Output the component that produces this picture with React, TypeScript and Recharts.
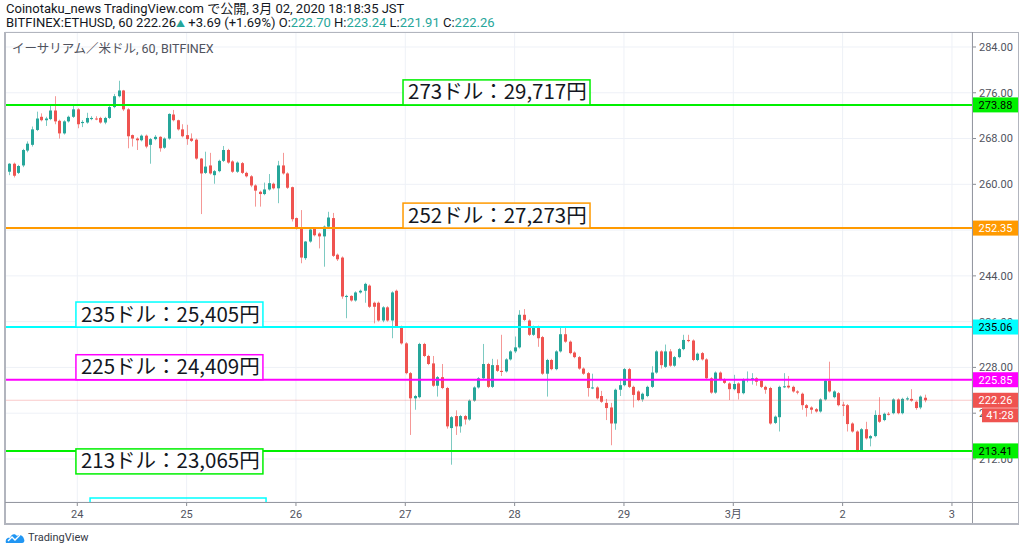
import React from 'react';
import { ComposedChart, Bar, XAxis, YAxis, CartesianGrid, ReferenceLine, ReferenceDot } from 'recharts';

// hourly candles, index 0 = Feb 24 00:00
const START_INDEX = -15;

const opens = [
  262.2, 263.6, 262.0, 263.3, 265.9, 266.9, 269.5, 271.8, 271.2, 271.4, 272.9, 271.1, 268.9, 271.0, 271.8,
  273.1, 270.7, 270.8, 271.4, 271.5, 271.6, 270.8, 271.6, 273.5, 275.4, 276.4, 273.1, 268.6, 268.0, 267.7,
  268.5, 266.9, 267.9, 268.3, 266.4, 268.0, 272.2, 271.2, 269.6, 268.6, 268.0, 267.8, 264.5, 262.0, 263.3,
  261.6, 262.3, 264.1, 266.0, 264.0, 262.2, 263.7, 262.0, 261.4, 259.8, 258.7, 258.3, 259.1, 260.1, 259.3,
  263.3, 261.9, 259.5, 254.1, 252.3, 247.1, 250.0, 252.3, 251.4, 250.9, 252.6, 254.1, 247.7, 247.2, 240.3,
  240.5, 239.7, 241.1, 241.4, 242.3, 239.3, 239.3, 236.2, 238.5, 236.2, 241.4, 235.1, 232.2, 227.0, 222.6,
  222.8, 232.1, 230.0, 228.7, 224.8, 226.3, 224.4, 217.4, 219.5, 217.7, 219.5, 218.9, 222.2, 224.5, 226.1,
  228.6, 224.6, 228.4, 227.4, 227.3, 229.4, 230.8, 231.5, 237.2, 236.2, 233.7, 235.1, 233.3, 226.9, 229.3,
  227.7, 230.8, 233.8, 232.5, 230.6, 229.8, 227.8, 227.0, 224.4, 224.5, 223.0, 221.8, 221.0, 218.2, 224.1,
  224.9, 227.7, 224.6, 223.8, 222.4, 223.0, 224.6, 227.1, 230.8, 228.1, 230.8, 228.3, 229.8, 231.2, 232.8,
  232.7, 229.3, 230.5, 229.4, 226.1, 223.6, 227.1, 225.9, 225.2, 224.2, 225.2, 223.5, 225.9, 225.9, 226.1,
  225.7, 224.6, 224.4, 218.3, 219.3, 224.6, 224.8, 224.6, 223.8, 223.4, 221.4, 221.0, 220.7, 220.3, 222.4,
  225.7, 222.8, 223.5, 221.5, 221.4, 218.2, 216.8, 213.5, 217.2, 215.6, 216.0, 219.7, 218.8, 219.9, 220.0,
  222.4, 220.0, 222.4, 222.5, 222.0, 221.0, 222.7,
];

const highs = [
  263.7, 263.8, 263.4, 266.2, 267.5, 270.1, 272.7, 272.4, 271.8, 273.9, 275.4, 271.3, 271.2, 272.0, 273.9,
  273.3, 271.2, 272.5, 271.9, 271.9, 271.8, 271.8, 273.7, 275.8, 278.1, 276.5, 273.3, 268.7, 268.2, 268.7,
  268.7, 268.1, 268.6, 268.4, 268.2, 272.4, 273.0, 271.3, 270.5, 270.4, 268.9, 268.0, 264.6, 265.7, 265.5,
  262.5, 264.3, 266.7, 266.2, 264.2, 264.0, 263.9, 262.2, 261.6, 260.0, 258.9, 260.3, 261.8, 260.3, 264.1,
  265.5, 262.1, 259.6, 254.2, 255.5, 250.1, 252.3, 252.5, 251.6, 252.8, 255.2, 255.0, 247.9, 247.4, 240.7,
  240.6, 241.3, 241.6, 242.8, 242.5, 239.5, 239.5, 238.7, 238.7, 241.3, 241.6, 235.3, 232.4, 227.2, 223.2,
  232.3, 232.3, 230.2, 230.0, 226.5, 228.6, 224.6, 219.5, 220.5, 219.7, 219.7, 222.4, 224.7, 226.3, 232.1,
  228.8, 229.5, 229.4, 233.7, 229.6, 231.0, 233.4, 238.0, 238.2, 236.4, 235.3, 235.3, 233.5, 229.5, 229.5,
  231.0, 235.1, 235.0, 232.7, 230.8, 230.0, 228.0, 227.2, 226.9, 224.7, 223.9, 222.5, 221.8, 224.3, 226.0,
  227.9, 227.9, 224.8, 224.0, 223.6, 224.8, 228.2, 231.0, 231.0, 232.0, 231.2, 230.0, 231.4, 233.7, 233.7,
  232.9, 230.6, 230.7, 229.6, 226.3, 227.3, 227.3, 226.1, 225.4, 226.7, 225.4, 226.1, 227.3, 227.0, 226.3,
  225.9, 224.8, 224.6, 219.6, 224.8, 227.0, 226.5, 224.8, 224.0, 223.6, 221.6, 221.2, 220.9, 222.6, 225.9,
  229.0, 224.0, 223.7, 222.0, 221.6, 218.4, 217.0, 217.4, 218.5, 216.2, 220.5, 222.8, 220.1, 220.2, 222.6,
  222.6, 222.7, 222.9, 224.2, 222.2, 223.1, 223.24,
];

const lows = [
  261.6, 261.2, 261.8, 263.0, 265.6, 266.6, 269.3, 271.0, 270.2, 271.2, 270.5, 268.0, 268.7, 270.8, 271.6,
  269.8, 270.0, 270.6, 271.2, 271.2, 270.6, 270.5, 271.4, 273.3, 275.2, 272.8, 266.3, 266.6, 266.0, 267.5,
  266.3, 263.6, 267.7, 265.7, 266.2, 267.8, 271.0, 269.4, 268.2, 266.9, 267.4, 264.3, 254.8, 261.8, 261.7,
  260.1, 262.1, 263.9, 263.6, 262.0, 262.0, 261.8, 261.2, 259.5, 256.1, 256.1, 258.1, 258.9, 259.1, 256.7,
  261.7, 259.2, 253.5, 252.1, 246.2, 246.8, 249.8, 250.9, 248.8, 245.6, 252.4, 247.3, 246.6, 240.0, 236.6,
  239.5, 239.5, 240.9, 239.3, 238.4, 235.7, 236.0, 235.9, 236.0, 233.1, 234.9, 232.0, 226.8, 216.2, 220.6,
  222.6, 229.8, 228.4, 224.6, 222.9, 224.2, 217.3, 211.0, 216.2, 216.6, 218.0, 218.7, 222.0, 224.3, 225.9,
  224.4, 224.4, 227.2, 226.5, 227.1, 229.2, 230.5, 231.3, 236.1, 233.5, 233.5, 231.6, 226.7, 222.9, 227.5,
  227.5, 230.6, 232.3, 230.3, 229.6, 227.6, 226.7, 222.9, 224.2, 222.4, 221.8, 218.8, 214.4, 217.1, 223.0,
  224.7, 224.4, 221.0, 222.1, 222.0, 222.8, 224.4, 226.9, 227.8, 227.9, 228.1, 228.1, 229.6, 231.0, 232.4,
  229.1, 229.1, 229.2, 225.9, 223.4, 223.4, 225.7, 225.1, 222.3, 224.0, 222.4, 223.3, 225.4, 225.0, 224.8,
  224.4, 223.4, 218.0, 218.1, 216.8, 224.4, 224.3, 223.6, 223.3, 220.6, 219.4, 219.9, 220.1, 220.1, 222.2,
  223.6, 222.6, 221.2, 219.5, 216.8, 216.6, 213.2, 213.3, 215.4, 214.2, 215.8, 218.3, 218.6, 219.6, 219.8,
  219.8, 219.8, 222.2, 222.0, 220.6, 220.7, 221.91,
];

const closes = [
  263.6, 261.5, 263.2, 266.0, 267.1, 269.6, 271.5, 271.2, 271.5, 272.9, 271.0, 268.9, 271.0, 271.8, 273.1,
  270.5, 270.9, 271.6, 271.6, 271.4, 270.8, 271.6, 273.5, 275.4, 276.4, 273.1, 268.4, 268.0, 267.7, 268.5,
  266.6, 267.9, 268.3, 266.3, 268.0, 272.3, 271.2, 269.6, 268.4, 267.9, 267.6, 264.5, 261.9, 263.1, 261.9,
  262.3, 264.1, 266.0, 263.8, 262.2, 263.8, 262.0, 261.4, 259.8, 258.9, 258.3, 259.1, 260.2, 259.3, 263.3,
  261.9, 259.4, 253.9, 252.3, 247.2, 250.0, 252.1, 251.1, 250.9, 252.6, 254.2, 247.5, 246.9, 240.4, 240.5,
  239.7, 241.1, 241.4, 242.6, 238.6, 238.6, 236.2, 238.5, 236.2, 241.1, 235.1, 232.2, 227.0, 222.6, 223.0,
  232.1, 230.0, 228.6, 224.8, 226.3, 224.4, 217.7, 219.3, 217.7, 219.5, 218.9, 222.2, 224.5, 226.1, 228.6,
  224.6, 228.4, 227.4, 227.2, 229.4, 230.8, 231.5, 237.2, 236.3, 233.7, 235.1, 233.1, 226.9, 229.3, 227.7,
  230.8, 233.8, 232.5, 230.5, 229.8, 227.8, 226.9, 224.4, 224.5, 222.6, 222.0, 220.9, 218.2, 224.1, 224.9,
  227.7, 224.6, 223.2, 222.3, 223.4, 224.6, 227.1, 230.8, 228.4, 230.8, 228.3, 229.8, 231.2, 232.8, 232.6,
  229.3, 230.4, 229.4, 226.1, 223.6, 227.1, 225.9, 225.3, 224.2, 225.1, 223.5, 225.9, 226.0, 226.1, 225.5,
  224.6, 224.1, 218.2, 219.4, 224.6, 224.7, 224.5, 223.8, 223.6, 221.4, 220.9, 220.6, 220.3, 222.4, 225.7,
  223.8, 223.8, 221.4, 221.3, 218.1, 216.8, 213.5, 217.2, 215.6, 216.0, 219.7, 218.5, 219.9, 219.8, 222.4,
  220.0, 222.5, 222.6, 222.2, 220.9, 222.9, 222.26,
];

const dayTickIndex = [0, 24, 48, 72, 96, 120, 144, 168, 192];
const dayTickLabels = ['24', '25', '26', '27', '28', '29', '3月', '2', '3'];
const priceTicks = [212, 220, 228, 236, 244, 252, 260, 268, 276, 284];

const levelPrices = [273.88, 252.35, 235.06, 225.85, 213.41];
const levelColors = ['#00f000', '#ff9a00', '#00ffff', '#ff00ff', '#00f000'];
const levelTextColors = ['#000000', '#ffffff', '#000000', '#ffffff', '#000000'];

const noteTexts = ['273ドル：29,717円', '252ドル：27,273円', '235ドル：25,405円', '225ドル：24,409円', '213ドル：23,065円', ''];
const notePrices = [273.88, 252.35, 235.06, 225.85, 213.41, 205.18];
const noteAnchors = [71.5, 71.5, -0.3, -0.3, -0.3, 2.8];
const noteBelow = [false, false, false, false, true, true];
const noteColors = ['#00f000', '#ff9a00', '#00ffff', '#ff00ff', '#00f000', '#00ffff'];

const lastPrice = 222.26;
const countdown = '41:28';

const X_DOMAIN = [-15.87, 196.4];
const Y_DOMAIN = [204.48, 286.62];

const candles = opens.map((o, k) => ({
  i: START_INDEX + k,
  o,
  h: highs[k],
  l: lows[k],
  c: closes[k],
  range: [lows[k], highs[k]],
}));

const UP = '#26a69a';
const DOWN = '#ef5350';
const FONT = "Roboto, 'Noto Sans CJK JP', sans-serif";

const Candle = (props: any) => {
  const { x, y, width, height, payload } = props;
  if (!payload || x == null || y == null) return null;
  const { o, h, l, c } = payload;
  const color = c >= o ? UP : DOWN;
  const cx = Math.round(x + width / 2) + 0.5;
  const top = Math.min(y, y + height);
  const hgt = Math.abs(height);
  const ppu = hgt / Math.max(h - l, 0.0001);
  const bodyTop = top + (h - Math.max(o, c)) * ppu;
  const bodyH = Math.max(1, Math.abs(o - c) * ppu);
  return (
    <g>
      <line x1={cx} x2={cx} y1={top} y2={top + hgt} stroke={color} strokeOpacity={0.6} strokeWidth={1} />
      <rect x={cx - 1.5} y={bodyTop} width={3} height={bodyH} fill={color} />
    </g>
  );
};

const PriceTag = (props: any) => {
  const { viewBox, text, bg, fg, extra } = props;
  if (!viewBox) return null;
  const x = viewBox.x + viewBox.width + 1;
  const y = viewBox.y;
  return (
    <g>
      <rect x={x} y={y - 7.5} width={45} height={15} fill={bg} />
      <text x={x + 22.5} y={y + 4} textAnchor="middle" fontSize={11} fill={fg} fontFamily={FONT}>{text}</text>
      {extra ? (
        <g>
          <rect x={x + 9} y={y + 8} width={36} height={14} fill={bg} />
          <text x={x + 27} y={y + 19} textAnchor="middle" fontSize={11} fill={fg} fontFamily={FONT}>{extra}</text>
        </g>
      ) : null}
    </g>
  );
};

const NoteBox = (props: any) => {
  const { cx, cy, text, color, below } = props;
  if (cx == null || cy == null) return null;
  if (!text) {
    return <path d={`M${cx} ${cy + 5} L${cx} ${cy} L${cx + 176} ${cy} L${cx + 176} ${cy + 5}`} fill="none" stroke={color} strokeWidth={1.5} />;
  }
  const w = 187;
  const h = 25;
  const top = below ? cy - 2 : cy - h;
  return (
    <g>
      <rect x={cx} y={top} width={w} height={h} fill="#ffffff" stroke={color} strokeWidth={1.5} />
      <text x={cx + 5} y={top + 19.5} fontSize={20.5} fill="#131722" fontFamily="'Noto Sans CJK JP', sans-serif">{text}</text>
    </g>
  );
};

export default function App() {
  return (
    <div style={{ position: 'absolute', left: 0, top: 0, width: 1024, height: 552, background: '#fff', overflow: 'hidden', fontFamily: FONT }}>
      <div style={{ position: 'absolute', left: 6, top: 2, fontSize: 13, lineHeight: '14px', color: '#131722', whiteSpace: 'nowrap' }}>
        Coinotaku_news TradingView.com で公開, 3月 02, 2020 18:18:35 JST
      </div>
      <div style={{ position: 'absolute', left: 6, top: 16, fontSize: 13, lineHeight: '14px', color: '#131722', whiteSpace: 'nowrap' }}>
        BITFINEX:ETHUSD, 60 222.26<span style={{ color: UP, fontSize: 9 }}>▲</span> +3.69 (+1.69%) O:<span style={{ color: UP }}>222.70</span> H:<span style={{ color: UP }}>223.24</span> L:<span style={{ color: UP }}>221.91</span> C:<span style={{ color: UP }}>222.26</span>
      </div>

      {/* base chart: grid, axes, candles */}
      <div style={{ position: 'absolute', left: 0, top: 0 }}>
        <ComposedChart width={1024} height={552} data={candles} margin={{ top: 32, right: 6, bottom: 29, left: 5 }}>
          <CartesianGrid stroke="#eef1f7" strokeWidth={1} />
          <XAxis
            dataKey="i"
            type="number"
            domain={X_DOMAIN}
            allowDataOverflow
            ticks={dayTickIndex}
            tickFormatter={(v: number) => dayTickLabels[dayTickIndex.indexOf(v)] ?? ''}
            axisLine={false}
            tickSize={4}
            tickMargin={4}
            height={21}
            tick={{ fontSize: 11, fill: '#50535e', fontFamily: FONT }}
            tickLine={{ stroke: '#8a8d95' }}
          />
          <YAxis
            orientation="right"
            type="number"
            domain={Y_DOMAIN}
            allowDataOverflow
            ticks={priceTicks}
            tickFormatter={(v: number) => v.toFixed(2)}
            axisLine={false}
            tickSize={4}
            tickMargin={3}
            width={46}
            tick={{ fontSize: 11, fill: '#50535e', fontFamily: FONT, textAnchor: 'start' }}
            tickLine={{ stroke: '#8a8d95' }}
          />
          <Bar dataKey="range" shape={(p: any) => <Candle {...p} />} barSize={3} isAnimationActive={false} />
        </ComposedChart>
      </div>

      {/* overlay chart: level lines, price tags, notes (drawn above axis labels) */}
      <div style={{ position: 'absolute', left: 0, top: 0, pointerEvents: 'none' }}>
        <ComposedChart width={1024} height={552} data={candles} margin={{ top: 32, right: 52, bottom: 50, left: 5 }}>
          <XAxis dataKey="i" type="number" domain={X_DOMAIN} allowDataOverflow hide />
          <YAxis type="number" domain={Y_DOMAIN} allowDataOverflow hide />
          <ReferenceLine
            y={lastPrice}
            stroke={DOWN}
            strokeOpacity={0.3}
            strokeWidth={1}
            label={<PriceTag text={lastPrice.toFixed(2)} bg={DOWN} fg="#ffffff" extra={countdown} />}
          />
          {levelPrices.map((p, k) => (
            <ReferenceLine
              key={'lv' + k}
              y={p}
              stroke={levelColors[k]}
              strokeWidth={2}
              label={<PriceTag text={p.toFixed(2)} bg={levelColors[k]} fg={levelTextColors[k]} />}
            />
          ))}
          {noteTexts.map((t, k) => (
            <ReferenceDot
              key={'nt' + k}
              x={noteAnchors[k]}
              y={notePrices[k]}
              r={0}
              shape={(p: any) => <NoteBox cx={p.cx} cy={p.cy} text={t} color={noteColors[k]} below={noteBelow[k]} />}
            />
          ))}
        </ComposedChart>
      </div>

      <div style={{ position: 'absolute', left: 12, top: 38, fontSize: 12.5, color: '#50535e', whiteSpace: 'nowrap' }}>
        イーサリアム／米ドル, 60, BITFINEX
      </div>

      {/* frame */}
      <div style={{ position: 'absolute', left: 4, top: 32, width: 1012, height: 490, border: '1px solid #b2b5be', borderLeftWidth: 2, borderBottomWidth: 2, pointerEvents: 'none' }} />
      <div style={{ position: 'absolute', left: 5, top: 502, width: 1013, height: 1, background: '#9598a1' }} />
      <div style={{ position: 'absolute', left: 972, top: 32, width: 1, height: 491, background: '#9598a1' }} />

      {/* logo */}
      <div style={{ position: 'absolute', left: 5, top: 531, display: 'flex', alignItems: 'center' }}>
        <svg width={20} height={13} viewBox="0 0 20 13">
          <path d="M1 12 C0 9 2 6 5 7 C6 3 10 2 12 5 C14 3 18 4 19 8 C20 10 19 12 17 12 Z" fill="#2196f3" />
          <path d="M3 10 L7 6 L10 9 L15 4" stroke="#ffffff" strokeWidth={1.4} fill="none" />
        </svg>
        <span style={{ marginLeft: 3, fontSize: 11, color: '#363a45' }}>TradingView</span>
      </div>
    </div>
  );
}
